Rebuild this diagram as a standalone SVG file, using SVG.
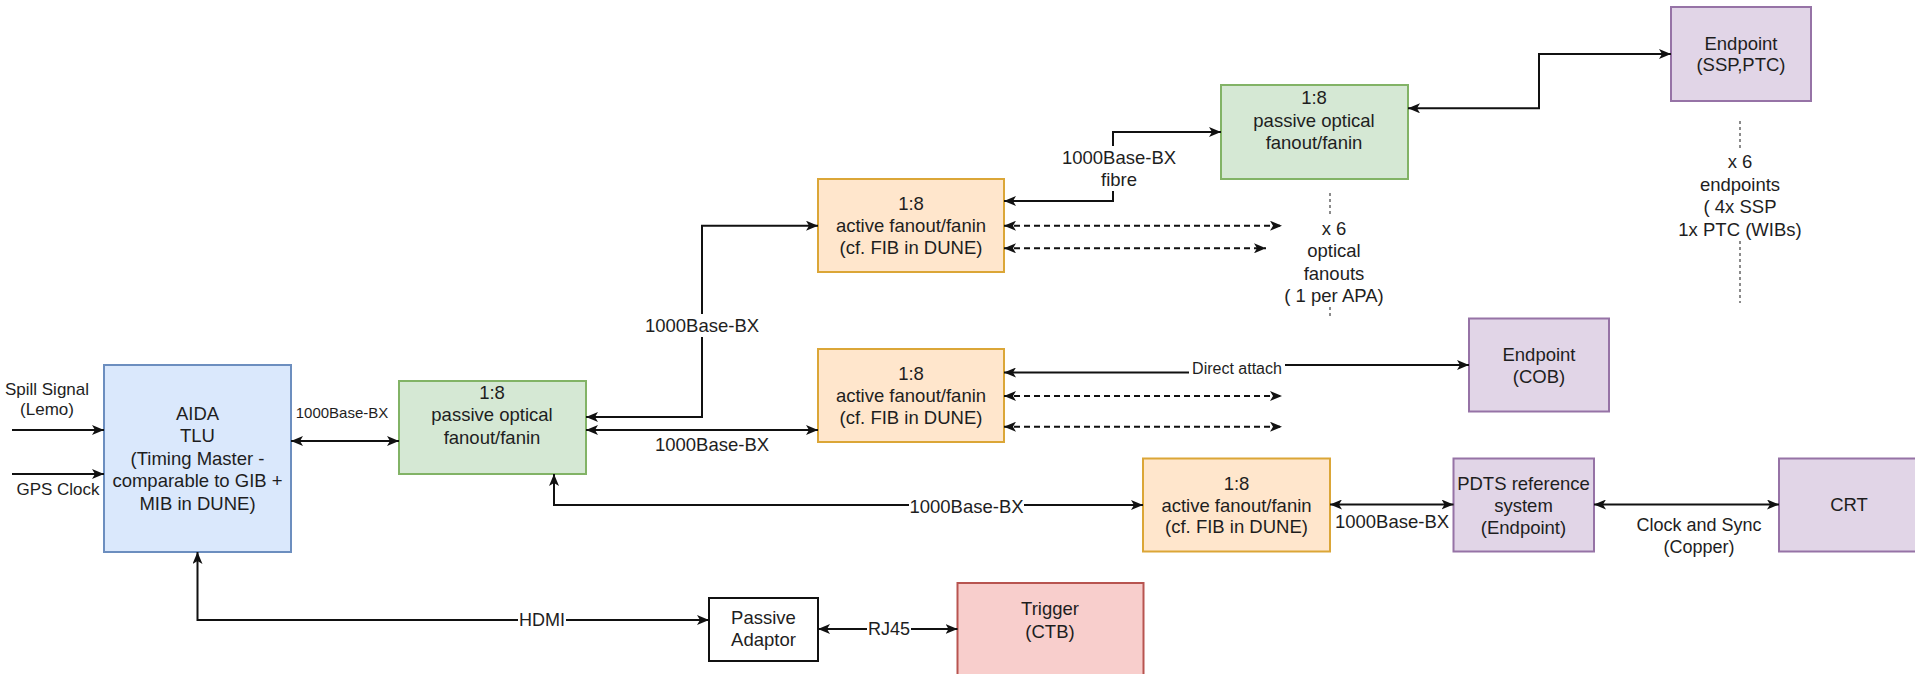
<svg xmlns="http://www.w3.org/2000/svg" width="1915" height="674" viewBox="0 0 1915 674">
  <style>
    text { font-family: "Liberation Sans", Arial, Helvetica, sans-serif; font-size: 18.5px; fill: #1e1e1e; text-anchor: middle; dominant-baseline: central; }
    .box { stroke-width: 2; }
    .blue { fill: #dae8fc; stroke: #6c8ebf; }
    .green { fill: #d5e8d4; stroke: #82b366; }
    .orange { fill: #ffe6cc; stroke: #dba637; }
    .purple { fill: #e1d5e7; stroke: #9673a6; }
    .red { fill: #f8cecc; stroke: #b85450; }
    .plain { fill: #ffffff; stroke: #111111; }
    .edge { fill: none; stroke: #111111; stroke-width: 2; }
    .both { marker-start: url(#arrow); marker-end: url(#arrow); }
    .end { marker-end: url(#arrow); }
    .dash { stroke-dasharray: 6 4; }
    .dot { fill: none; stroke: #666666; stroke-width: 1.5; stroke-dasharray: 3 3; }
    .bg { fill: #ffffff; }
    .s15 { font-size: 15px; }
    .s16 { font-size: 16px; }
    .s17 { font-size: 17px; }
    .s18 { font-size: 18px; }
  </style>
  <defs>
    <marker id="arrow" viewBox="0 0 12 10" refX="12" refY="5" markerWidth="12" markerHeight="10" markerUnits="userSpaceOnUse" orient="auto-start-reverse">
      <path d="M0,0 L12,5 L0,10 L3,5 Z" fill="#111111"/>
    </marker>
  </defs>

  <!-- nodes -->
  <g id="aida-tlu">
    <rect class="box blue" x="104" y="365" width="187" height="187"/>
    <text x="197.5" y="413">AIDA</text>
    <text x="197.5" y="435.5">TLU</text>
    <text x="197.5" y="458">(Timing Master -</text>
    <text x="197.5" y="480.5">comparable to GIB +</text>
    <text x="197.5" y="503">MIB in DUNE)</text>
  </g>

  <g id="passive-fanout-main">
    <rect class="box green" x="399" y="381" width="187" height="93"/>
    <text x="492" y="392">1:8</text>
    <text x="492" y="414.5">passive optical</text>
    <text x="492" y="437">fanout/fanin</text>
  </g>

  <g id="active-fanout-top">
    <rect class="box orange" x="818" y="179" width="186" height="93"/>
    <text x="911" y="203">1:8</text>
    <text x="911" y="225">active fanout/fanin</text>
    <text x="911" y="247">(cf. FIB in DUNE)</text>
  </g>

  <g id="active-fanout-mid">
    <rect class="box orange" x="818" y="349" width="186" height="93"/>
    <text x="911" y="373">1:8</text>
    <text x="911" y="395.5">active fanout/fanin</text>
    <text x="911" y="417">(cf. FIB in DUNE)</text>
  </g>

  <g id="active-fanout-low">
    <rect class="box orange" x="1143" y="458.5" width="187" height="93"/>
    <text x="1236.5" y="483">1:8</text>
    <text x="1236.5" y="505">active fanout/fanin</text>
    <text x="1236.5" y="526.5">(cf. FIB in DUNE)</text>
  </g>

  <g id="passive-fanout-top">
    <rect class="box green" x="1221" y="85" width="187" height="94"/>
    <text x="1314" y="97.5">1:8</text>
    <text x="1314" y="120.5">passive optical</text>
    <text x="1314" y="142.5">fanout/fanin</text>
  </g>

  <g id="endpoint-ssp-ptc">
    <rect class="box purple" x="1671" y="7" width="140" height="94"/>
    <text x="1741" y="43">Endpoint</text>
    <text x="1741" y="64.5">(SSP,PTC)</text>
  </g>

  <g id="endpoint-cob">
    <rect class="box purple" x="1469" y="318.5" width="140" height="93"/>
    <text x="1539" y="354">Endpoint</text>
    <text x="1539" y="376">(COB)</text>
  </g>

  <g id="pdts-reference">
    <rect class="box purple" x="1453.5" y="458.5" width="140.5" height="93"/>
    <text x="1523.5" y="483">PDTS reference</text>
    <text x="1523.5" y="505">system</text>
    <text x="1523.5" y="527">(Endpoint)</text>
  </g>

  <g id="crt">
    <rect class="box purple" x="1779" y="458.5" width="140" height="93"/>
    <text x="1849" y="504">CRT</text>
  </g>

  <g id="passive-adaptor">
    <rect class="box plain" x="709" y="598" width="109" height="63"/>
    <text x="763.5" y="617">Passive</text>
    <text x="763.5" y="639.5">Adaptor</text>
  </g>

  <g id="trigger-ctb">
    <rect class="box red" x="957.5" y="583" width="186" height="96"/>
    <text x="1050" y="608.5">Trigger</text>
    <text x="1050" y="631">(CTB)</text>
  </g>

  <g id="note-optical-fanouts">
    <path class="dot" d="M1330,193 V318"/>
    <rect class="bg" x="1282" y="216" width="104" height="91"/>
    <text x="1334" y="228">x 6</text>
    <text x="1334" y="250.5">optical</text>
    <text x="1334" y="273">fanouts</text>
    <text x="1334" y="295.5">( 1 per APA)</text>
  </g>

  <g id="note-endpoints">
    <path class="dot" d="M1740,121 V303"/>
    <rect class="bg" x="1676" y="150" width="128" height="91"/>
    <text x="1740" y="161">x 6</text>
    <text x="1740" y="184">endpoints</text>
    <text x="1740" y="206.5">( 4x SSP</text>
    <text x="1740" y="229">1x PTC (WIBs)</text>
  </g>

  <!-- connectors -->
  <g id="connectors">
    <!-- inputs to the TLU -->
    <path class="edge end" d="M12,430 H104"/>
    <path class="edge end" d="M12,474 H104"/>
    <text class="s17" x="47" y="389">Spill Signal</text>
    <text class="s17" x="47" y="409.5">(Lemo)</text>
    <text class="s17" x="58" y="489">GPS Clock</text>

    <!-- TLU to main passive fanout -->
    <path class="edge both" d="M291,441 H399"/>
    <text class="s15" x="342" y="412">1000Base-BX</text>

    <!-- main passive fanout to the active fanouts -->
    <path class="edge both" d="M586,417 H702 V225.7 H818"/>
    <rect class="bg" x="645" y="314" width="114" height="23"/>
    <text x="702" y="325">1000Base-BX</text>

    <path class="edge both" d="M586,430 H818"/>
    <text x="712" y="444">1000Base-BX</text>

    <path class="edge both" d="M554,474 V505 H1143"/>
    <rect class="bg" x="909" y="495" width="115" height="23"/>
    <text x="966.5" y="506.5">1000Base-BX</text>

    <!-- top active fanout to top passive fanout (fibre) -->
    <path class="edge both" d="M1004,201 H1113 V132 H1221"/>
    <rect class="bg" x="1062" y="146" width="115" height="45"/>
    <text x="1119" y="157">1000Base-BX</text>
    <text x="1119" y="179">fibre</text>

    <!-- top passive fanout to SSP/PTC endpoint -->
    <path class="edge both" d="M1408,108.3 H1539 V54 H1671"/>

    <!-- further optical fanouts (dashed) -->
    <path class="edge both dash" d="M1004,225.7 H1282"/>
    <path class="edge both dash" d="M1004,248.3 H1266"/>

    <!-- middle active fanout -->
    <path class="edge both" d="M1004,372.5 H1237 V365 H1469"/>
    <rect class="bg" x="1189" y="358" width="96" height="21"/>
    <text class="s16" x="1237" y="368">Direct attach</text>
    <path class="edge both dash" d="M1004,396 H1282"/>
    <path class="edge both dash" d="M1004,426.7 H1282"/>

    <!-- low active fanout to PDTS and CRT -->
    <path class="edge both" d="M1330,504.5 H1453.5"/>
    <text x="1392" y="521.5">1000Base-BX</text>
    <path class="edge both" d="M1594,504.5 H1779"/>
    <text class="s18" x="1699" y="525">Clock and Sync</text>
    <text class="s18" x="1699" y="547">(Copper)</text>

    <!-- HDMI / RJ45 path to the trigger -->
    <path class="edge both" d="M197.5,552 V620 H709"/>
    <rect class="bg" x="518" y="609" width="48" height="22"/>
    <text class="s18" x="542" y="620">HDMI</text>
    <path class="edge both" d="M818,629 H957.5"/>
    <rect class="bg" x="867" y="618" width="44" height="22"/>
    <text class="s18" x="889" y="629">RJ45</text>
  </g>
</svg>
